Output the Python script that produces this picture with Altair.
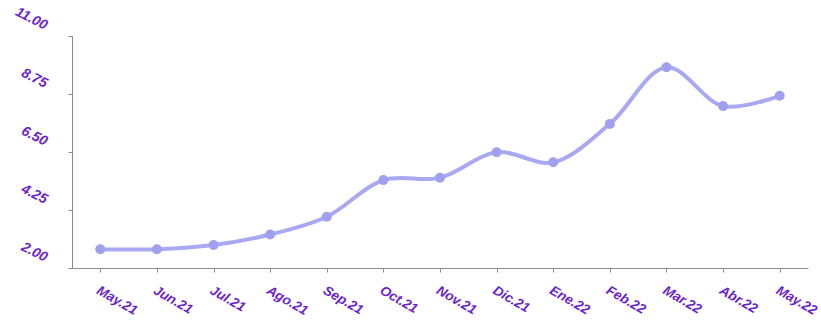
import altair as alt
import pandas as pd

months = ["May.21", "Jun.21", "Jul.21", "Ago.21", "Sep.21", "Oct.21", "Nov.21",
          "Dic.21", "Ene.22", "Feb.22", "Mar.22", "Abr.22", "May.22"]
values = [2.73, 2.73, 2.89, 3.30, 3.99, 5.41, 5.50, 6.49, 6.10, 7.59, 9.79, 8.28, 8.68]
y_ticks = [2.00, 4.25, 6.50, 8.75, 11.00]

df = pd.DataFrame({"mes": months, "valor": values})

label_color = "#6a1fcf"
font = "Liberation Sans"

x = alt.X("mes:N", sort=months, title=None,
          scale=alt.Scale(type="point", padding=0.5),
          axis=alt.Axis(labelAngle=30, labelAlign="left", labelBaseline="middle",
                        labelPadding=17, labelOffset=-3, labelColor=label_color,
                        labelFont=font, labelFontSize=13.5, labelFontStyle="italic",
                        labelFontWeight="bold",
                        domainColor="#8a8a8a", tickColor="#8a8a8a", tickSize=4,
                        grid=False))
y = alt.Y("valor:Q", title=None,
          scale=alt.Scale(domain=[2, 11], nice=False, zero=False),
          axis=alt.Axis(values=y_ticks, format=".2f", labelAngle=27,
                        labelAlign="right", labelBaseline="middle",
                        labelPadding=22, labelOffset=-10, labelColor=label_color,
                        labelFont=font, labelFontSize=14, labelFontStyle="italic",
                        labelFontWeight="bold",
                        domainColor="#8a8a8a", tickColor="#8a8a8a", tickSize=4,
                        grid=False))

line = alt.Chart(df).mark_line(color="#a9a9f3", strokeWidth=4,
                               interpolate="catmull-rom").encode(x=x, y=y)
pts = alt.Chart(df).mark_circle(color="#a0a0ee", size=100, opacity=1).encode(x=x, y=y)

chart = (line + pts).properties(
    width=736, height=232,
    autosize=alt.AutoSizeParams(type="none"),
    padding={"left": 72, "top": 36, "right": 13, "bottom": 55},
    background="white",
).configure_view(stroke=None)

chart.save("out.html", embed_options={"renderer": "svg", "actions": False})
